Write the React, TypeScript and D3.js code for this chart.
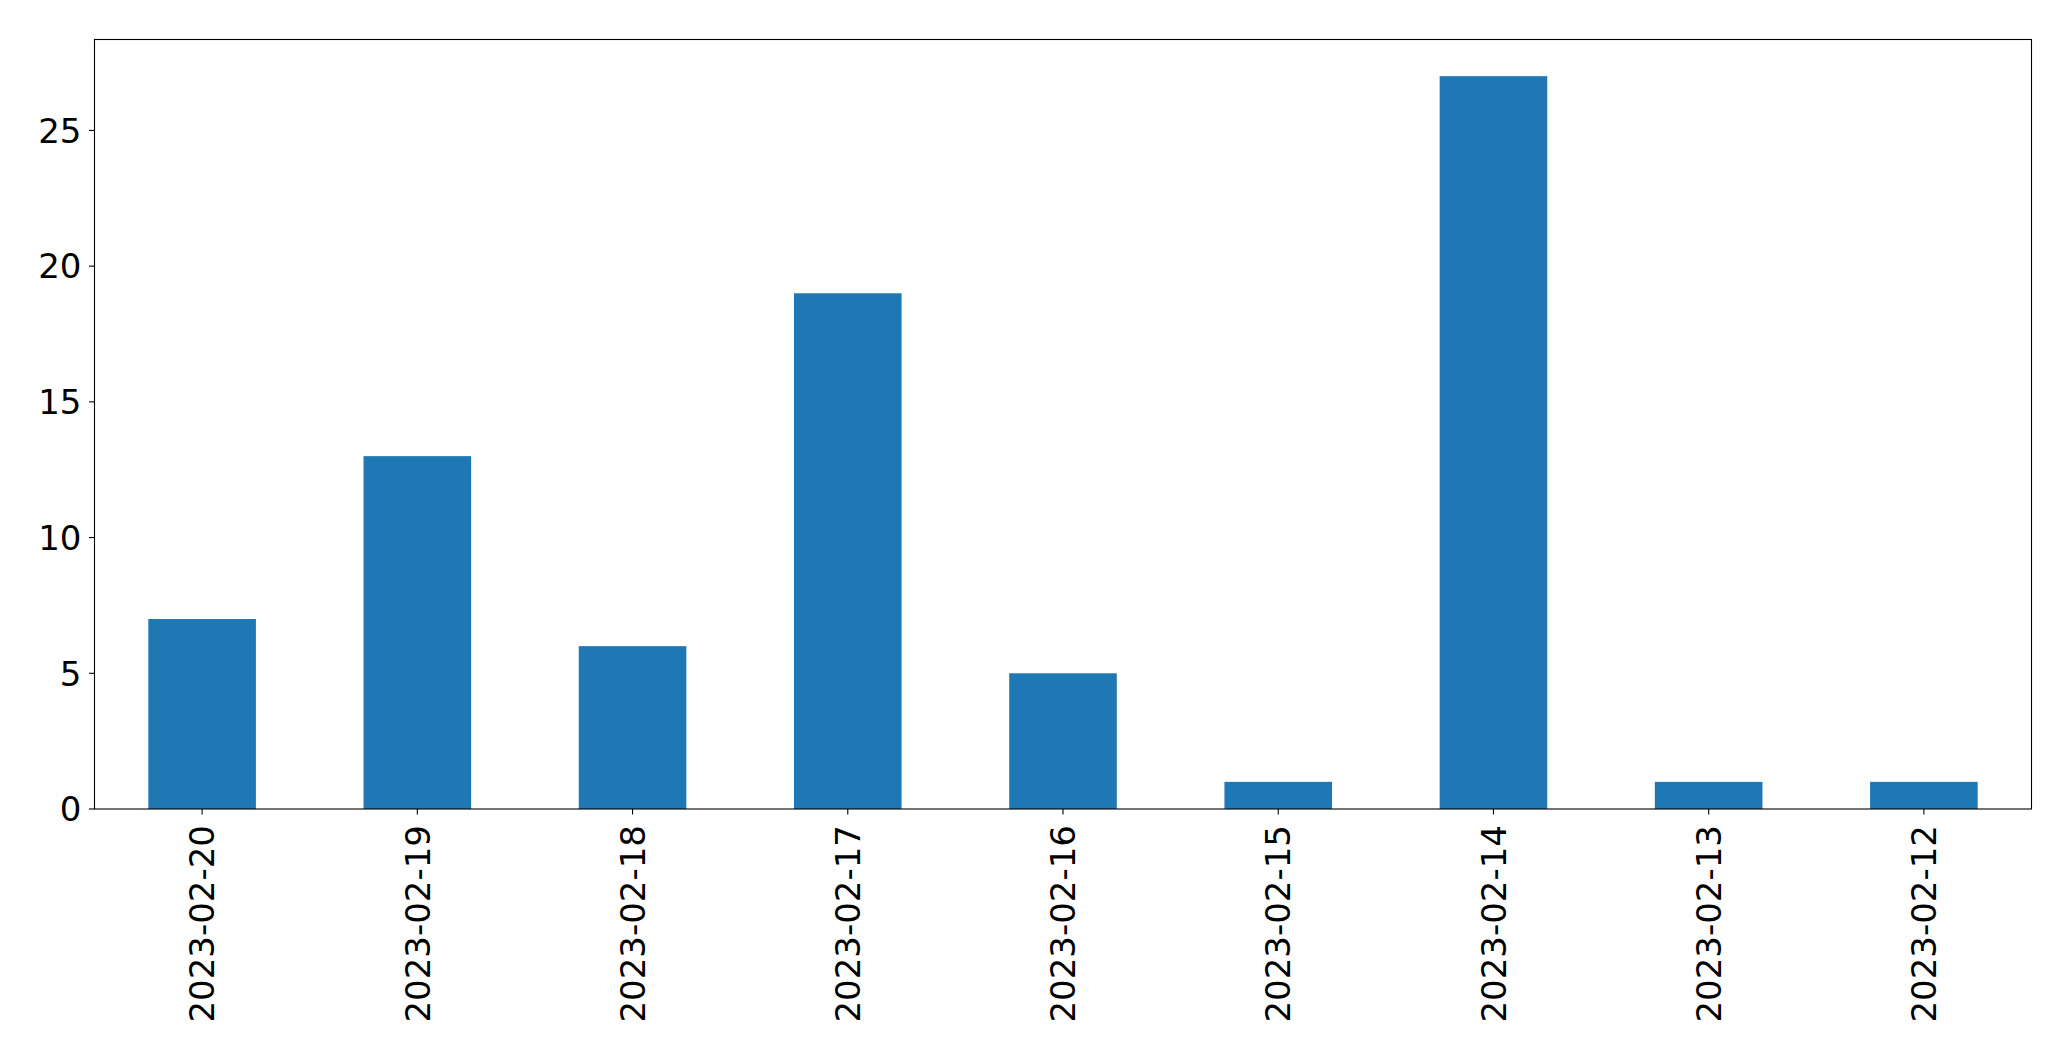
import React from "react";
import * as d3 from "d3";

const categories = ["2023-02-20", "2023-02-19", "2023-02-18", "2023-02-17", "2023-02-16", "2023-02-15", "2023-02-14", "2023-02-13", "2023-02-12"];
const values = [7, 13, 6, 19, 5, 1, 27, 1, 1];
const yTicks = [0, 5, 10, 15, 20, 25];

const W = 2071, H = 1061;
const M = { left: 94.5, right: 2031.5, top: 39.5, bottom: 809 };
const FONT = "DejaVu Sans, sans-serif";
const FS = 34;

export default function App() {
  const x = d3.scaleLinear().domain([-0.5, categories.length - 0.5]).range([M.left, M.right]);
  const yMax = d3.max(values)! * 1.05;
  const y = d3.scaleLinear().domain([0, yMax]).range([M.bottom, M.top]);
  const bw = 0.25;
  return (
    <svg width={W} height={H} style={{ position: "absolute", left: 0, top: 0, background: "#fff" }}>
      <rect x={0} y={0} width={W} height={H} fill="#fff" />
      {values.map((v, i) => (
        <rect key={i} x={x(i - bw)} y={y(v)} width={x(i + bw) - x(i - bw)} height={y(0) - y(v)} fill="#1f77b4" />
      ))}
      <rect x={M.left} y={M.top} width={M.right - M.left} height={M.bottom - M.top} fill="none" stroke="#000" strokeWidth={1.1} />
      {yTicks.map((t) => (
        <g key={t}>
          <line x1={M.left - 5.5} x2={M.left} y1={y(t)} y2={y(t)} stroke="#000" strokeWidth={1.1} />
          <text x={M.left - 13} y={y(t)} dy="0.36em" textAnchor="end" fontFamily={FONT} fontSize={FS} fill="#000">{t}</text>
        </g>
      ))}
      {categories.map((c, i) => (
        <g key={c}>
          <line x1={x(i)} x2={x(i)} y1={M.bottom} y2={M.bottom + 5.5} stroke="#000" strokeWidth={1.1} />
          <text transform={`translate(${x(i)},${M.bottom + 16}) rotate(-90)`} dy="0.36em" textAnchor="end" fontFamily={FONT} fontSize={FS} fill="#000">{c}</text>
        </g>
      ))}
    </svg>
  );
}
